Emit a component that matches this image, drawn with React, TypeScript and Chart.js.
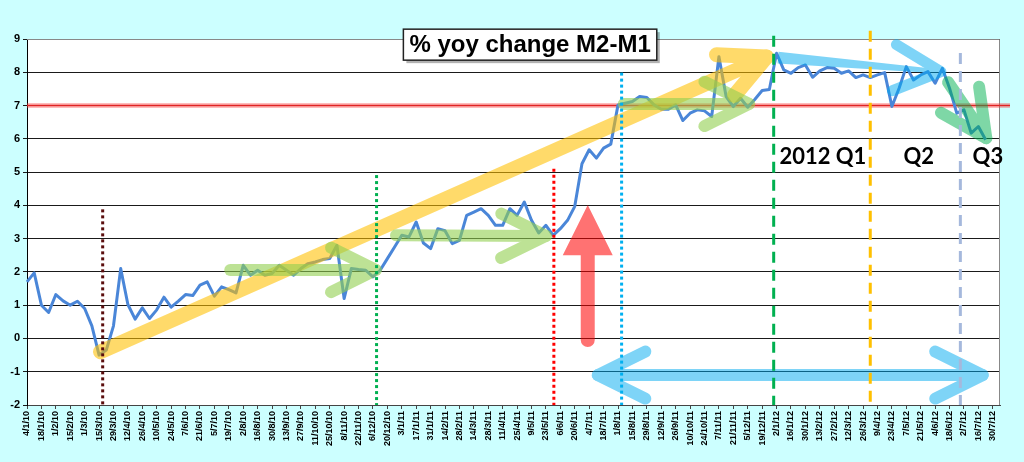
import { useEffect, useRef } from 'react'
import { Chart, registerables } from 'chart.js'

Chart.register(...registerables)

// weekly observations, one label per Monday
const weeks: string[] = [
  '4/1/10', '11/1/10', '18/1/10', '25/1/10', '1/2/10', '8/2/10', '15/2/10', '22/2/10', '1/3/10', '8/3/10',
  '15/3/10', '22/3/10', '29/3/10', '5/4/10', '12/4/10', '19/4/10', '26/4/10', '3/5/10', '10/5/10', '17/5/10',
  '24/5/10', '31/5/10', '7/6/10', '14/6/10', '21/6/10', '28/6/10', '5/7/10', '12/7/10', '19/7/10', '26/7/10',
  '2/8/10', '9/8/10', '16/8/10', '23/8/10', '30/8/10', '6/9/10', '13/9/10', '20/9/10', '27/9/10', '4/10/10',
  '11/10/10', '18/10/10', '25/10/10', '1/11/10', '8/11/10', '15/11/10', '22/11/10', '29/11/10', '6/12/10', '13/12/10',
  '20/12/10', '27/12/10',
  '3/1/11', '10/1/11', '17/1/11', '24/1/11', '31/1/11', '7/2/11', '14/2/11', '21/2/11', '28/2/11', '7/3/11',
  '14/3/11', '21/3/11', '28/3/11', '4/4/11', '11/4/11', '18/4/11', '25/4/11', '2/5/11', '9/5/11', '16/5/11',
  '23/5/11', '30/5/11', '6/6/11', '13/6/11', '20/6/11', '27/6/11', '4/7/11', '11/7/11', '18/7/11', '25/7/11',
  '1/8/11', '8/8/11', '15/8/11', '22/8/11', '29/8/11', '5/9/11', '12/9/11', '19/9/11', '26/9/11', '3/10/11',
  '10/10/11', '17/10/11', '24/10/11', '31/10/11', '7/11/11', '14/11/11', '21/11/11', '28/11/11', '5/12/11', '12/12/11',
  '19/12/11', '26/12/11',
  '2/1/12', '9/1/12', '16/1/12', '23/1/12', '30/1/12', '6/2/12', '13/2/12', '20/2/12', '27/2/12', '5/3/12',
  '12/3/12', '19/3/12', '26/3/12', '2/4/12', '9/4/12', '16/4/12', '23/4/12', '30/4/12', '7/5/12', '14/5/12',
  '21/5/12', '28/5/12', '4/6/12', '11/6/12', '18/6/12', '25/6/12', '2/7/12', '9/7/12', '16/7/12', '23/7/12',
  '30/7/12', '6/8/12',
]

// % yoy change M2-M1
const yoyChange: number[] = [
  1.7, 1.97, 1.0, 0.78, 1.32, 1.13, 1.0, 1.12, 0.9, 0.38,
  -0.5, -0.35, 0.38, 2.1, 1.02, 0.58, 0.92, 0.6, 0.86, 1.24,
  0.94, 1.12, 1.32, 1.29, 1.6, 1.7, 1.27, 1.55, 1.47, 1.37,
  2.2, 1.9, 2.05, 1.9, 1.95, 2.2, 2.05, 1.9, 2.1, 2.25,
  2.3, 2.37, 2.4, 2.8, 1.2, 2.1, 2.07, 2.05, 1.85, 2.05,
  2.4, 2.75, 3.1, 3.05, 3.5, 2.87, 2.7, 3.3, 3.24, 2.85,
  2.95, 3.7, 3.8, 3.9, 3.7, 3.4, 3.4, 3.9, 3.7, 4.1,
  3.55, 3.17, 3.4, 3.1, 3.3, 3.55, 3.97, 5.25, 5.67, 5.42,
  5.72, 5.84, 7.02, 7.07, 7.12, 7.27, 7.24, 7.02, 6.89, 6.89,
  7.02, 6.55, 6.77, 6.87, 6.84, 6.67, 8.47, 7.27, 6.97, 7.22,
  6.95, 7.19, 7.45, 7.48, 8.57, 8.07, 7.97, 8.14, 8.22, 7.85,
  8.04, 8.14, 8.12, 7.97, 8.04, 7.84, 7.92, 7.84, 7.92, 7.99,
  6.97, 7.52, 8.17, 7.77, 7.92, 8.02, 7.67, 8.12, 7.52, 6.77,
  6.87, 6.17, 6.37, 5.97,
]

const yMin = -2
const yMax = 9
const threshold = 7

const FONT = "'Liberation Sans', Arial, sans-serif"

// annotations, placed in data space: x = week index, y = value
const markers = [
  { at: 10.5, top: 3.88, color: '#5a0d0d', dash: [3, 3] },
  { at: 48.5, top: 4.91, color: '#00b050', dash: [3, 3] },
  { at: 73.1, top: 5.1, color: '#ff0000', dash: [3, 3] },
  { at: 82.5, top: 7.99, color: '#00b0f0', dash: [3, 3] },
  { at: 103.6, top: 9.1, color: '#00b050', dash: [11, 7] },
  { at: 117, top: 9.25, color: '#ffc000', dash: [11, 7] },
  { at: 129.5, top: 8.58, color: '#a5b8dc', dash: [11, 7] },
]

// taper: shaft width at the tip end (null = same as start)
const arrows = [
  { from: [10.2, -0.4], to: [102.6, 8.46], width: 15, taper: null, head: 50, color: '#ffc000', alpha: 0.58, both: false },
  { from: [28.2, 2.06], to: [48.4, 2.06], width: 12, taper: null, head: 50, color: '#92d050', alpha: 0.6, both: false },
  { from: [51.2, 3.1], to: [72, 3.08], width: 12, taper: null, head: 50, color: '#92d050', alpha: 0.6, both: false },
  { from: [82.8, 7.05], to: [100.2, 7.05], width: 12, taper: null, head: 50, color: '#92d050', alpha: 0.6, both: false },
  { from: [127.8, 7.7], to: [133.1, 6.02], width: 12, taper: null, head: 52, color: '#00b050', alpha: 0.5, both: false },
  { from: [104.2, 8.44], to: [126.8, 8.02], width: 12, taper: 4, head: 52, color: '#00aaf0', alpha: 0.5, both: false },
  { from: [79.2, -1.1], to: [132.6, -1.1], width: 12, taper: null, head: 53, color: '#00aaf0', alpha: 0.5, both: true },
]

const upArrow = { at: 77.8, bottom: -0.05, neck: 2.5, tip: 4.01 }

const quarterNotes = [
  { text: '2012 Q1', at: 104.4, y: 5.45 },
  { text: 'Q2', at: 121.6, y: 5.45 },
  { text: 'Q3', at: 131.2, y: 5.45 },
]

const titleBox = { text: '% yoy change M2-M1', at: 69.8, y: 8.83 }

// draw opaque shapes on a scratch layer, then composite once with alpha
function onLayer(chart: any, alpha: number, draw: (c: CanvasRenderingContext2D) => void) {
  const main: CanvasRenderingContext2D = chart.ctx
  const off = document.createElement('canvas')
  off.width = chart.canvas.width
  off.height = chart.canvas.height
  const c = off.getContext('2d') as CanvasRenderingContext2D
  c.setTransform(main.getTransform())
  draw(c)
  main.save()
  main.setTransform(1, 0, 0, 1, 0, 0)
  main.globalAlpha = alpha
  main.drawImage(off, 0, 0)
  main.restore()
}

function drawArrow(c: CanvasRenderingContext2D, x1: number, y1: number, x2: number, y2: number,
  width: number, taper: number | null, head: number, color: string, both: boolean) {
  const spread = 0.46
  const ang = Math.atan2(y2 - y1, x2 - x1)
  c.strokeStyle = color
  c.fillStyle = color
  c.lineCap = 'round'
  c.lineJoin = 'round'
  c.lineWidth = width
  c.beginPath()
  if (taper === null) {
    c.moveTo(x1, y1)
    c.lineTo(x2, y2)
    c.stroke()
  } else {
    const nx = -Math.sin(ang)
    const ny = Math.cos(ang)
    c.moveTo(x1 + nx * width / 2, y1 + ny * width / 2)
    c.lineTo(x2 + nx * taper / 2, y2 + ny * taper / 2)
    c.lineTo(x2 - nx * taper / 2, y2 - ny * taper / 2)
    c.lineTo(x1 - nx * width / 2, y1 - ny * width / 2)
    c.closePath()
    c.fill()
    c.lineWidth = width - 1
  }
  const arms = (x: number, y: number, a: number) => {
    c.moveTo(x + head * Math.cos(a + Math.PI - spread), y + head * Math.sin(a + Math.PI - spread))
    c.lineTo(x, y)
    c.lineTo(x + head * Math.cos(a + Math.PI + spread), y + head * Math.sin(a + Math.PI + spread))
  }
  c.beginPath()
  arms(x2, y2, ang)
  if (both) arms(x1, y1, ang + Math.PI)
  c.stroke()
}

const decorations = {
  id: 'decorations',
  beforeDraw(chart: any) {
    const { ctx, chartArea: a } = chart
    ctx.save()
    ctx.fillStyle = '#ccffff'
    ctx.fillRect(0, 0, chart.width, chart.height)
    ctx.fillStyle = '#ffffff'
    ctx.fillRect(a.left, a.top, a.right - a.left, a.bottom - a.top)
    ctx.restore()
  },
  beforeDatasetsDraw(chart: any) {
    const { ctx, chartArea: a, scales } = chart
    const y = scales.y.getPixelForValue(threshold)
    ctx.save()
    ctx.strokeStyle = '#888'
    ctx.lineWidth = 1
    ctx.beginPath()
    ctx.moveTo(a.left, a.top + 0.5)
    ctx.lineTo(a.right - 0.5, a.top + 0.5)
    ctx.lineTo(a.right - 0.5, a.bottom)
    ctx.stroke()
    ctx.beginPath()
    ctx.moveTo(a.left, y)
    ctx.lineTo(a.right + 10, y)
    ctx.strokeStyle = 'rgba(255,60,60,0.35)'
    ctx.lineWidth = 5
    ctx.stroke()
    ctx.strokeStyle = '#e02424'
    ctx.lineWidth = 1.6
    ctx.stroke()
    ctx.restore()
  },
  afterDatasetsDraw(chart: any) {
    const { ctx, chartArea: a, scales } = chart
    const px = (v: number) => scales.x.getPixelForValue(v)
    const py = (v: number) => scales.y.getPixelForValue(v)

    arrows.forEach((ar) => {
      onLayer(chart, ar.alpha, (c) =>
        drawArrow(c, px(ar.from[0]), py(ar.from[1]), px(ar.to[0]), py(ar.to[1]),
          ar.width, ar.taper, ar.head, ar.color, ar.both))
    })

    // red block arrow pointing up
    onLayer(chart, 0.55, (c) => {
      const rx = px(upArrow.at)
      const rb = py(upArrow.bottom)
      const rn = py(upArrow.neck)
      const rt = py(upArrow.tip)
      c.beginPath()
      c.moveTo(rx - 7, rn)
      c.lineTo(rx - 7, rb)
      c.arc(rx, rb, 7, Math.PI, 0, true)
      c.lineTo(rx + 7, rn)
      c.lineTo(rx + 25, rn)
      c.lineTo(rx, rt)
      c.lineTo(rx - 25, rn)
      c.closePath()
      c.fillStyle = '#ff0000'
      c.fill()
    })

    ctx.save()
    markers.forEach((m) => {
      const x = px(m.at)
      ctx.beginPath()
      ctx.setLineDash(m.dash)
      ctx.moveTo(x, py(m.top))
      ctx.lineTo(x, a.bottom)
      ctx.strokeStyle = m.color
      ctx.lineWidth = 3
      ctx.lineCap = 'butt'
      ctx.stroke()
    })
    ctx.setLineDash([])

    ctx.fillStyle = '#000'
    ctx.font = "bold 22px Lato, 'Open Sans', sans-serif"
    ctx.textAlign = 'left'
    ctx.textBaseline = 'middle'
    quarterNotes.forEach((q) => ctx.fillText(q.text, px(q.at), py(q.y)))

    // title box
    ctx.font = `bold 24px ${FONT}`
    const tw = ctx.measureText(titleBox.text).width
    const bw = tw + 12
    const bh = 31
    const bx = px(titleBox.at) - bw / 2
    const by = py(titleBox.y) - bh / 2
    ctx.fillStyle = 'rgba(0,0,0,0.3)'
    ctx.fillRect(bx + 3, by + 3, bw, bh)
    ctx.fillStyle = '#fff'
    ctx.fillRect(bx, by, bw, bh)
    ctx.strokeStyle = '#222'
    ctx.lineWidth = 1.5
    ctx.strokeRect(bx, by, bw, bh)
    ctx.fillStyle = '#000'
    ctx.textAlign = 'center'
    ctx.textBaseline = 'middle'
    ctx.fillText(titleBox.text, bx + bw / 2, by + bh / 2 + 1)
    ctx.restore()
  },
}

export default function App() {
  const canvasRef = useRef<HTMLCanvasElement | null>(null)
  const chartRef = useRef<Chart | null>(null)

  useEffect(() => {
    document.body.style.margin = '0'
    if (!canvasRef.current) return
    if (chartRef.current) chartRef.current.destroy()

    chartRef.current = new Chart(canvasRef.current, {
      type: 'line',
      data: {
        labels: weeks,
        datasets: [
          {
            label: '% yoy change M2-M1',
            data: yoyChange,
            borderColor: '#4a86d8',
            borderWidth: 3,
            pointRadius: 0,
            tension: 0,
            borderJoinStyle: 'round',
          },
        ],
      },
      options: {
        responsive: false,
        animation: false,
        layout: { padding: { left: 0, top: 39, right: 24, bottom: 0 } },
        plugins: {
          legend: { display: false },
          tooltip: { enabled: false },
        },
        scales: {
          x: {
            offset: false,
            afterFit: (scale: any) => { scale.height = 57 },
            grid: { drawOnChartArea: false, drawTicks: true, tickLength: 4, color: '#444' },
            border: { color: '#444' },
            ticks: {
              autoSkip: false,
              maxRotation: 90,
              minRotation: 90,
              padding: 2,
              color: '#000',
              font: { family: FONT, size: 9, weight: 'bold' },
              callback: (_v: any, i: number) => (i % 2 === 0 ? weeks[i] : null),
            },
          },
          y: {
            min: yMin,
            max: yMax,
            afterFit: (scale: any) => { scale.width = 27 },
            grid: { color: '#1a1a1a', tickLength: 4 },
            border: { color: '#000' },
            ticks: {
              stepSize: 1,
              padding: 3,
              color: '#000',
              font: { family: FONT, size: 11, weight: 'bold' },
            },
          },
        },
      },
      plugins: [decorations],
    })

    return () => {
      if (chartRef.current) {
        chartRef.current.destroy()
        chartRef.current = null
      }
    }
  }, [])

  return (
    <div style={{ width: 1024, height: 462, background: '#ccffff' }}>
      <canvas ref={canvasRef} width={1024} height={462} style={{ display: 'block' }} />
    </div>
  )
}
